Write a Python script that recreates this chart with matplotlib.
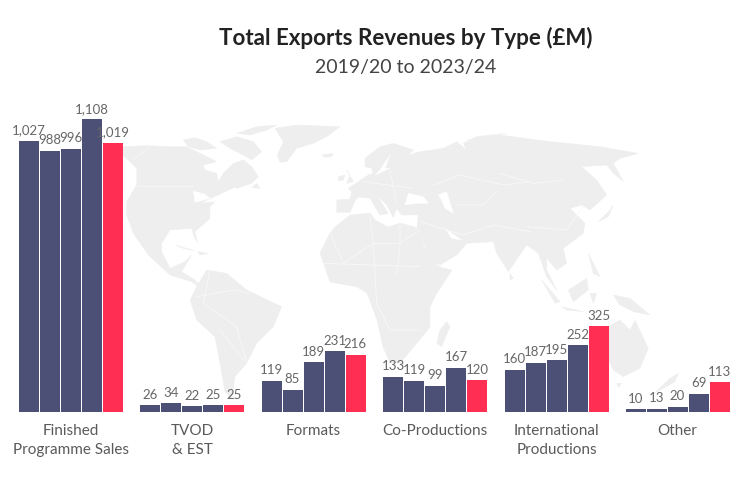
import matplotlib
matplotlib.use("Agg")
import matplotlib.pyplot as plt
from matplotlib.patches import Polygon

plt.rcParams['font.family'] = ['Lato', 'DejaVu Sans']

categories = ["Finished\nProgramme Sales", "TVOD\n& EST", "Formats", "Co-Productions",
              "International\nProductions", "Other"]
finished = [1027, 988, 996, 1108, 1019]
tvod = [26, 34, 22, 25, 25]
formats = [119, 85, 189, 231, 216]
coprod = [133, 119, 99, 167, 120]
international = [160, 187, 195, 252, 325]
other = [10, 13, 20, 69, 113]
values = [finished, tvod, formats, coprod, international, other]

NAVY = "#4c4f76"
RED = "#ff2e52"
LAND = "#eeeeee"
TEXT = "#666666"


def z(ox, oy, pts):
    # zoomed crop coords (3x) to figure pixels
    return [(ox + a / 3, oy + b / 3) for a, b in pts]


# background map, traced by eye, in figure pixels
land = [
    # north america
    z(120, 105, [(5, 125), (80, 122), (150, 125), (200, 125), (250, 150), (290, 170), (250, 180), (255, 195),
                 (290, 205), (295, 230), (310, 205), (340, 175), (370, 165), (395, 185), (415, 215), (395, 235),
                 (350, 250), (300, 275), (270, 305), (270, 340), (225, 380), (232, 412), (222, 395), (215, 370),
                 (150, 375), (125, 415), (125, 440), (150, 490), (195, 470), (215, 450), (185, 500), (225, 525),
                 (255, 560), (215, 530), (150, 510), (85, 450), (40, 385), (20, 330), (20, 290), (50, 240),
                 (50, 190), (20, 160), (5, 150)]),
    z(120, 105, [(190, 105), (225, 98), (260, 110), (290, 130), (240, 135), (205, 125)]),
    z(120, 105, [(300, 110), (350, 95), (400, 110), (425, 140), (395, 165), (370, 150), (330, 130)]),
    z(120, 105, [(350, 85), (410, 65), (470, 60), (440, 75), (390, 90)]),
    z(120, 105, [(465, 70), (530, 60), (660, 65), (620, 95), (580, 115), (530, 130), (500, 170), (480, 172),
                 (472, 150), (490, 110)]),
    z(120, 105, [(605, 150), (640, 145), (635, 155), (615, 157)]),
    z(120, 105, [(395, 248), (410, 235), (420, 250)]),
    # caribbean
    z(100, 130, [(225, 345), (285, 362), (250, 355)]),
    z(100, 130, [(293, 365), (325, 370), (300, 375)]),
    # south america
    z(100, 130, [(270, 510), (290, 470), (320, 420), (380, 430), (440, 480), (545, 530), (520, 590), (470, 640),
                 (440, 700), (405, 740), (395, 805), (375, 785), (360, 700), (345, 620), (290, 570)]),
    # africa
    [(335, 227), (350, 215), (370, 213), (375, 220), (388, 227), (400, 223), (415, 227), (425, 248), (437, 265),
     (443, 268), (452, 270), (437, 293), (430, 307), (430, 327), (417, 343), (400, 363), (390, 363), (383, 347),
     (377, 320), (367, 293), (357, 287), (330, 282), (320, 253), (330, 233)],
    z(400, 130, [(140, 575), (150, 590), (125, 650), (110, 640), (120, 600)]),
    # eurasia
    z(330, 125, [(20, 225), (60, 222), (65, 200), (55, 190), (85, 170), (115, 150), (130, 145), (125, 130), (105, 125),
                 (105, 100), (150, 65), (190, 55), (250, 75), (235, 90), (270, 80), (340, 70), (380, 50), (410, 75),
                 (400, 55), (440, 35), (530, 25)])
    + z(400, 130, [(200, 30), (300, 15), (450, 35), (600, 50), (715, 70), (660, 85), (640, 100), (670, 155),
                   (640, 130), (620, 105), (545, 110), (590, 150), (620, 195), (570, 240), (545, 225), (510, 235),
                   (555, 280), (550, 310), (490, 355), (500, 400), (470, 420), (440, 385), (440, 420), (470, 480),
                   (440, 440), (415, 370), (380, 345), (325, 425), (290, 370), (280, 335), (200, 340), (170, 375),
                   (120, 405), (100, 395), (50, 300)])
    + z(330, 125, [(265, 270), (215, 270), (200, 250), (190, 278), (170, 240), (140, 210), (175, 265), (150, 270),
                   (120, 220), (85, 216), (75, 228), (60, 262), (20, 262)]),
    z(330, 125, [(50, 135), (70, 170), (50, 175), (60, 150)]),
    z(330, 125, [(25, 155), (45, 150), (40, 165), (25, 168)]),
    # asia islands
    z(400, 130, [(640, 225), (625, 260), (595, 275), (630, 240)]),
    z(400, 130, [(425, 450), (480, 515), (465, 520)]),
    z(400, 130, [(505, 480), (560, 445), (565, 480), (520, 515)]),
    z(400, 130, [(485, 530), (550, 545), (500, 540)]),
    z(400, 130, [(570, 490), (590, 490), (580, 520)]),
    z(400, 130, [(565, 370), (600, 440), (580, 430)]),
    z(400, 130, [(640, 495), (690, 505), (750, 555), (700, 545), (660, 525)]),
    z(400, 130, [(330, 430), (340, 445), (330, 450)]),
    # australia and nz
    z(400, 130, [(570, 640), (625, 590), (660, 570), (690, 600), (705, 570), (745, 655), (720, 715), (670, 740),
                 (640, 720), (625, 690)]),
    z(400, 130, [(650, 760), (665, 760), (655, 772)]),
    z(400, 130, [(835, 730), (825, 755), (760, 792), (810, 745)]),
]
water = [
    z(120, 105, [(220, 258), (255, 268), (270, 280), (225, 292)]),
    z(120, 105, [(250, 292), (345, 248), (355, 262), (285, 290)]),
    z(330, 125, [(225, 240), (235, 205), (280, 215), (295, 235), (260, 235)]),
    z(330, 125, [(325, 210), (350, 200), (370, 265), (345, 250), (335, 225)]),
    z(330, 125, [(165, 130), (180, 90), (150, 135), (135, 150), (180, 130)]),
    z(330, 125, [(345, 310), (395, 345), (365, 340)]),
]
borders = [
    z(120, 105, [(50, 243), (220, 243)]),
    z(120, 105, [(40, 165), (90, 125)]),
    z(100, 130, [(330, 420), (310, 520), (410, 590), (440, 700)]),
    z(100, 130, [(290, 500), (400, 480), (450, 490)]),
    z(100, 130, [(360, 600), (430, 690)]),
    z(100, 130, [(690, 310), (730, 400), (820, 340), (900, 340), (960, 300)]),
    z(100, 130, [(810, 260), (820, 340), (830, 520), (870, 600), (960, 600)]),
    z(100, 130, [(670, 400), (960, 410)]),
    z(330, 125, [(210, 300), (210, 360), (200, 450)]),
    z(330, 125, [(310, 180), (390, 150), (520, 180), (600, 170)]),
    z(330, 125, [(380, 240), (460, 240), (500, 200)]),
    z(330, 125, [(400, 330), (490, 300), (600, 320)]),
    z(330, 125, [(270, 290), (400, 330)]),
    z(330, 125, [(100, 170), (250, 190)]),
    z(330, 125, [(180, 140), (200, 230)]),
    z(400, 130, [(380, 290), (500, 300), (550, 230)]),
    z(400, 130, [(300, 130), (400, 160), (490, 150)]),
]

fig = plt.figure(figsize=(7.5, 4.84), dpi=100)

bg = fig.add_axes([0, 0, 1, 1], zorder=0)
bg.set_xlim(0, 750)
bg.set_ylim(484, 0)
bg.axis("off")
for pts in land:
    bg.add_patch(Polygon(pts, closed=True, fc=LAND, ec=LAND, lw=0.3))
for pts in water:
    bg.add_patch(Polygon(pts, closed=True, fc="white", ec="white", lw=0.3))
for pts in borders:
    bg.plot([p[0] for p in pts], [p[1] for p in pts], color="#f8f8f8", lw=0.6)

# bars sit on y=412px, 0.2643 px per unit
ax = fig.add_axes([0, 72 / 484, 1, 412 / 484], zorder=1)
ax.patch.set_alpha(0)
ax.axis("off")
ax.set_xlim(0, 750)
ax.set_ylim(0, 412 / 0.2643)

group_left = [18.5, 139.7, 261, 382.5, 504, 625]
for left, vals, name in zip(group_left, values, categories):
    for j, v in enumerate(vals):
        x = left + 10.5 + 21 * j
        ax.bar(x, v, width=20, color=RED if j == 4 else NAVY, edgecolor="none")
        label = f"{v:,}"
        ax.annotate(label, (x, v), xytext=(0, 3.2), textcoords="offset points", ha="center", va="bottom",
                    fontsize=9.5, color=TEXT, clip_on=False)
    # category label
    ax.annotate(name, (left + 52.5, 0), xytext=(0, -8.5), textcoords="offset points", ha="center", va="top",
                fontsize=11, color="#5a5a5a", linespacing=1.45, annotation_clip=False)

fig.text(405.5 / 750, 1 - 38 / 484, "Total Exports Revenues by Type (£M)", ha="center", va="center",
         fontsize=16.1, fontweight="bold", color="#222222")
fig.text(405.5 / 750, 1 - 68 / 484, "2019/20 to 2023/24", ha="center", va="center",
         fontsize=14, color="#444444")

fig.savefig("out.png", dpi=100)
